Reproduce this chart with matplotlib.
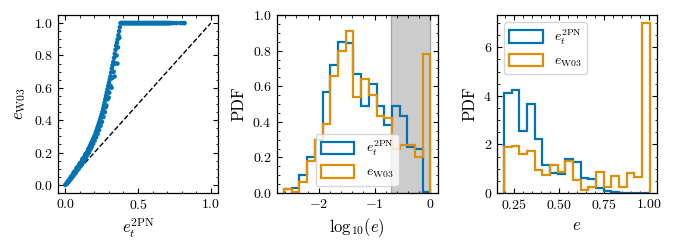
import numpy as np
import matplotlib
matplotlib.use("Agg")
import matplotlib.pyplot as plt
from matplotlib.ticker import AutoMinorLocator

plt.rcParams.update({
    "font.family": "serif",
    "font.serif": ["cmr10"],
    "mathtext.fontset": "cm",
    "axes.formatter.use_mathtext": True,
    "font.size": 10,
    "axes.labelsize": 12,
    "xtick.labelsize": 10,
    "ytick.labelsize": 10,
    "xtick.direction": "in",
    "ytick.direction": "in",
    "xtick.top": True,
    "ytick.right": True,
    "xtick.major.size": 3.5,
    "ytick.major.size": 3.5,
    "xtick.minor.size": 1.8,
    "ytick.minor.size": 1.8,
    "xtick.minor.visible": True,
    "ytick.minor.visible": True,
    "axes.linewidth": 0.9,
    "legend.edgecolor": "0.8",
})

blue = "#0173B2"
orange = "#DE8F05"

# panel 1: e_t^2PN vs e_W03
# rising branch
e_2pn_a = [0.0, 0.005, 0.01, 0.015, 0.02, 0.025, 0.03, 0.035, 0.04, 0.045, 0.05, 0.055,
           0.06, 0.065, 0.07, 0.075, 0.08, 0.085, 0.09, 0.095, 0.10, 0.105, 0.11, 0.115,
           0.12, 0.125, 0.13, 0.135, 0.14, 0.145, 0.15, 0.155, 0.16, 0.165, 0.17, 0.175,
           0.18, 0.185, 0.19, 0.195, 0.20, 0.205, 0.21, 0.215, 0.22, 0.225, 0.23, 0.235,
           0.24, 0.245, 0.25, 0.255, 0.26, 0.265, 0.27, 0.275, 0.28, 0.285, 0.29, 0.295,
           0.30, 0.305, 0.31, 0.315, 0.32, 0.325, 0.33, 0.335, 0.34, 0.345, 0.35, 0.355,
           0.36, 0.365, 0.37, 0.375, 0.38]
e_w03_a = [0.0, 0.005, 0.01, 0.016, 0.022, 0.028, 0.035, 0.04, 0.046, 0.053, 0.06, 0.067,
           0.074, 0.08, 0.087, 0.094, 0.10, 0.107, 0.114, 0.12, 0.127, 0.134, 0.141, 0.148,
           0.155, 0.162, 0.17, 0.178, 0.186, 0.194, 0.20, 0.21, 0.22, 0.23, 0.24, 0.25,
           0.26, 0.27, 0.28, 0.29, 0.30, 0.31, 0.325, 0.337, 0.35, 0.363, 0.377, 0.39,
           0.405, 0.42, 0.435, 0.45, 0.47, 0.49, 0.51, 0.53, 0.55, 0.57, 0.59, 0.61,
           0.63, 0.65, 0.67, 0.695, 0.72, 0.74, 0.76, 0.785, 0.81, 0.835, 0.86, 0.88,
           0.90, 0.925, 0.95, 0.975, 1.0]
# scatter around the rising branch
e_2pn_b = [0.012, 0.022, 0.032, 0.042, 0.052, 0.062, 0.072, 0.082, 0.092, 0.102, 0.112,
           0.122, 0.132, 0.142, 0.152, 0.162, 0.172, 0.182, 0.192, 0.202, 0.212, 0.222,
           0.232, 0.242, 0.252, 0.262, 0.272, 0.282, 0.292, 0.302, 0.312, 0.322, 0.332,
           0.342, 0.352, 0.362, 0.372,
           0.018, 0.038, 0.058, 0.078, 0.098, 0.118, 0.138, 0.158, 0.178, 0.198, 0.218,
           0.238, 0.258, 0.278, 0.298, 0.318, 0.338, 0.358]
e_w03_b = [0.008, 0.018, 0.03, 0.04, 0.052, 0.064, 0.076, 0.09, 0.10, 0.115, 0.128,
           0.14, 0.154, 0.17, 0.185, 0.20, 0.218, 0.236, 0.255, 0.275, 0.295, 0.315,
           0.34, 0.365, 0.39, 0.42, 0.45, 0.49, 0.53, 0.57, 0.61, 0.66, 0.70,
           0.75, 0.80, 0.85, 0.91,
           0.022, 0.05, 0.078, 0.105, 0.132, 0.16, 0.19, 0.22, 0.255, 0.29, 0.33,
           0.375, 0.425, 0.48, 0.54, 0.60, 0.67, 0.75]
# flat branch at e_W03 = 1
e_2pn_c = [0.385, 0.39, 0.395, 0.40, 0.405, 0.41, 0.415, 0.42, 0.425, 0.43, 0.435, 0.44,
           0.445, 0.45, 0.455, 0.46, 0.465, 0.47, 0.475, 0.48, 0.485, 0.49, 0.495, 0.50,
           0.505, 0.51, 0.515, 0.52, 0.525, 0.53, 0.535, 0.54, 0.545, 0.55, 0.555, 0.56,
           0.565, 0.57, 0.575, 0.58, 0.585, 0.59, 0.595, 0.60, 0.605, 0.61, 0.615, 0.62,
           0.625, 0.63, 0.635, 0.64, 0.645, 0.65, 0.655, 0.66, 0.665, 0.67, 0.675, 0.68,
           0.685, 0.69, 0.695, 0.70, 0.705, 0.71, 0.715, 0.72, 0.73, 0.745, 0.765, 0.79,
           0.805, 0.82]
e_w03_c = [1.0] * len(e_2pn_c)

# panel 2: PDF of log10(e)
log_edges = [-2.62, -2.482, -2.344, -2.206, -2.068, -1.93, -1.792, -1.654, -1.516,
             -1.378, -1.24, -1.102, -0.964, -0.826, -0.688, -0.55, -0.412, -0.274,
             -0.136, 0.0]
log_pdf_2pn = [0.025, 0.03, 0.10, 0.20, 0.30, 0.57, 0.72, 0.85, 0.84, 0.67, 0.49, 0.61,
               0.49, 0.38, 0.49, 0.43, 0.26, 0.25, 0.005]
log_pdf_w03 = [0.02, 0.005, 0.06, 0.18, 0.30, 0.39, 0.66, 0.80, 0.91, 0.54, 0.64, 0.55,
               0.43, 0.42, 0.25, 0.27, 0.27, 0.20, 0.78]

# panel 3: PDF of e (e > 0.2)
e_edges = [0.195, 0.2376, 0.2803, 0.3229, 0.3655, 0.4082, 0.4508, 0.4934, 0.5361, 0.5787,
           0.6213, 0.6639, 0.7066, 0.7492, 0.7918, 0.8345, 0.8771, 0.9197, 0.9624, 1.005]
e_pdf_2pn = [4.12, 4.26, 2.55, 3.66, 2.23, 1.16, 0.81, 0.77, 1.40, 1.26, 0.63, 0.56,
             0.20, 0.08, 0.05, 0.02, 0.0, 0.0, 0.0]
e_pdf_w03 = [1.88, 1.95, 1.60, 1.72, 0.95, 0.74, 1.16, 0.88, 1.33, 0.53, 0.11, 0.24,
             0.88, 0.24, 0.70, 0.24, 0.84, 0.67, 6.98]

lab_2pn = r"$e_t^{\rm 2PN}$"
lab_w03 = r"$e_{\rm W03}$"

fig = plt.figure(figsize=(6.75, 2.5), dpi=100)
ax1 = fig.add_axes([0.086, 0.228, 0.237, 0.712])
ax2 = fig.add_axes([0.410, 0.228, 0.2385, 0.712])
ax3 = fig.add_axes([0.736, 0.228, 0.237, 0.712])

# 1 - scatter
for xs, ys in [(e_2pn_a, e_w03_a), (e_2pn_b, e_w03_b), (e_2pn_c, e_w03_c)]:
    ax1.scatter(xs, ys, s=11, color=blue, edgecolors="none", zorder=3)
ax1.plot([0, 1], [0, 1], "k--", lw=1)
ax1.set_xlabel(lab_2pn)
ax1.set_ylabel(lab_w03)
ax1.set_xticks([0.0, 0.5, 1.0])
ax1.set_yticks([0.0, 0.2, 0.4, 0.6, 0.8, 1.0])


def step_hist(ax, edges, vals, color, label):
    ax.hist(edges[:-1], bins=edges, weights=vals, histtype="step",
            color=color, lw=1.6, label=label)


# 2 - log histogram
ax2.axvspan(np.log10(0.2), 0, facecolor="0.8", edgecolor="0.65", lw=1, zorder=0)
step_hist(ax2, log_edges, log_pdf_2pn, blue, lab_2pn)
step_hist(ax2, log_edges, log_pdf_w03, orange, lab_w03)
ax2.set_ylim(0, 1)
ax2.set_xlabel(r"$\mathrm{log}_{10}(e)$")
ax2.set_ylabel("PDF")
ax2.legend(loc="lower center", fontsize=10, handlelength=2.4, handleheight=1.0)

# 3 - histogram of e
step_hist(ax3, e_edges, e_pdf_2pn, blue, lab_2pn)
step_hist(ax3, e_edges, e_pdf_w03, orange, lab_w03)
ax3.set_xlabel(r"$e$")
ax3.set_ylabel("PDF")
ax3.set_xticks([0.25, 0.5, 0.75, 1.0])
ax3.legend(loc="upper left", fontsize=10, handlelength=2.4, handleheight=1.0)

for ax in (ax1, ax2, ax3):
    ax.xaxis.set_minor_locator(AutoMinorLocator())
    ax.yaxis.set_minor_locator(AutoMinorLocator())

fig.savefig("out.png", dpi=100)
